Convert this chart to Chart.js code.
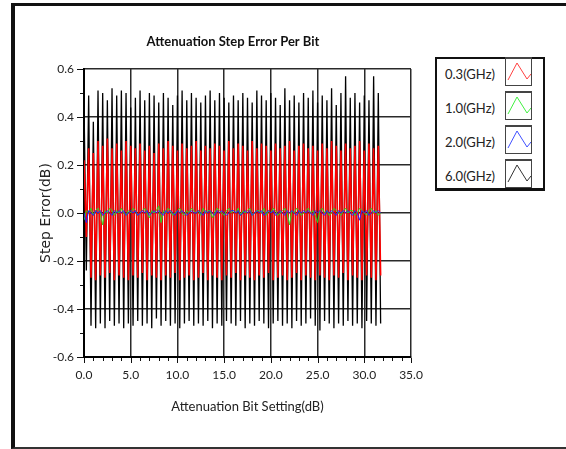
<!DOCTYPE html>
<html>
<head>
<meta charset="utf-8">
<script src="https://cdn.jsdelivr.net/npm/chart.js@4.4.1/dist/chart.umd.min.js"></script>
<style>
  html, body { margin: 0; padding: 0; background: #fff; }
  body { width: 566px; height: 449px; position: relative; overflow: hidden; }
  #marco {
    position: absolute; left: 11px; top: 3px; width: 620px; height: 441px;
    border-left: 4px solid #111; border-top: 3px solid #111; border-bottom: 2px solid #333;
  }
  #grafico { position: absolute; left: 0; top: 0; }
  #leyenda {
    position: absolute; left: 435px; top: 57px; width: 106px; height: 129px;
    border: 2px solid #111; border-bottom-width: 3px; background: #fff;
  }
  .fila { position: absolute; left: 0; width: 96px; height: 27px; }
  .fila span {
    position: absolute; right: 38px; top: 2px;
    font: 13px Lato, "Open Sans", sans-serif; line-height: 30px; color: #222;
  }
  .fila svg {
    position: absolute; left: 68px; top: 0; width: 25px; height: 26px;
    border: 1px solid #444; border-top-width: 2px; background: #fff;
  }
</style>
</head>
<body>
<div id="marco"></div>
<canvas id="grafico" width="566" height="449"></canvas>
<div id="leyenda"></div>
<script>
// Ajustes de atenuación (dB), paso de 0.25
const ajustesBit = [
  0, 0.25, 0.5, 0.75, 1, 1.25, 1.5, 1.75, 2, 2.25, 2.5, 2.75, 3, 3.25, 3.5, 3.75,
  4, 4.25, 4.5, 4.75, 5, 5.25, 5.5, 5.75, 6, 6.25, 6.5, 6.75, 7, 7.25, 7.5, 7.75,
  8, 8.25, 8.5, 8.75, 9, 9.25, 9.5, 9.75, 10, 10.25, 10.5, 10.75, 11, 11.25, 11.5, 11.75,
  12, 12.25, 12.5, 12.75, 13, 13.25, 13.5, 13.75, 14, 14.25, 14.5, 14.75, 15, 15.25, 15.5, 15.75,
  16, 16.25, 16.5, 16.75, 17, 17.25, 17.5, 17.75, 18, 18.25, 18.5, 18.75, 19, 19.25, 19.5, 19.75,
  20, 20.25, 20.5, 20.75, 21, 21.25, 21.5, 21.75, 22, 22.25, 22.5, 22.75, 23, 23.25, 23.5, 23.75,
  24, 24.25, 24.5, 24.75, 25, 25.25, 25.5, 25.75, 26, 26.25, 26.5, 26.75, 27, 27.25, 27.5, 27.75,
  28, 28.25, 28.5, 28.75, 29, 29.25, 29.5, 29.75, 30, 30.25, 30.5, 30.75, 31, 31.25, 31.5, 31.75
];

// Error de paso (dB) por frecuencia
const error03GHz = [
  0.22,-0.10, 0.27,-0.27, 0.25,-0.28, 0.30,-0.26, 0.28,-0.27, 0.31,-0.25, 0.27,-0.28, 0.29,-0.26,
  0.26,-0.27, 0.30,-0.28, 0.28,-0.26, 0.27,-0.27, 0.29,-0.25, 0.26,-0.28, 0.28,-0.26, 0.25,-0.27,
  0.29,-0.28, 0.27,-0.26, 0.30,-0.27, 0.28,-0.25, 0.26,-0.28, 0.29,-0.27, 0.27,-0.26, 0.28,-0.28,
  0.30,-0.27, 0.26,-0.25, 0.28,-0.28, 0.27,-0.26, 0.29,-0.27, 0.28,-0.28, 0.26,-0.26, 0.30,-0.27,
  0.27,-0.25, 0.29,-0.28, 0.28,-0.26, 0.26,-0.27, 0.30,-0.28, 0.27,-0.26, 0.29,-0.27, 0.28,-0.25,
  0.26,-0.28, 0.29,-0.27, 0.27,-0.26, 0.28,-0.28, 0.30,-0.27, 0.26,-0.25, 0.28,-0.28, 0.29,-0.26,
  0.27,-0.27, 0.28,-0.28, 0.26,-0.26, 0.29,-0.27, 0.27,-0.28, 0.30,-0.26, 0.28,-0.27, 0.26,-0.25,
  0.29,-0.28, 0.27,-0.26, 0.28,-0.27, 0.30,-0.28, 0.26,-0.26, 0.29,-0.27, 0.27,-0.28, 0.28,-0.26
];
const error10GHz = [
  -0.03, 0.01, 0.00, 0.02,-0.01, 0.01, 0.02, 0.00,-0.05, 0.01, 0.00, 0.02, 0.01,-0.01, 0.01, 0.00,
   0.02, 0.00,-0.01, 0.01, 0.00, 0.02, 0.01,-0.01, 0.00, 0.01, 0.02, 0.00,-0.02, 0.01, 0.00, 0.01,
   0.03,-0.04, 0.01, 0.00, 0.02, 0.01,-0.01, 0.00, 0.01, 0.02, 0.00,-0.01, 0.01, 0.00, 0.02, 0.01,
   0.00, 0.01,-0.01, 0.02, 0.00, 0.01, 0.01,-0.02, 0.00, 0.02, 0.01, 0.00,-0.01, 0.01, 0.02, 0.00,
   0.01, 0.00, 0.02,-0.01, 0.01, 0.00, 0.01, 0.02,-0.01, 0.00, 0.01, 0.01, 0.00, 0.02,-0.01, 0.01,
   0.00, 0.02, 0.01,-0.01, 0.00, 0.01, 0.02, 0.00,-0.05, 0.01, 0.00, 0.02, 0.01,-0.01, 0.00, 0.01,
   0.02, 0.00, 0.01,-0.01,-0.04, 0.01, 0.02, 0.00, 0.01,-0.01, 0.00, 0.02, 0.01, 0.00,-0.01, 0.01,
   0.02, 0.00, 0.01, 0.01,-0.01, 0.00, 0.02, 0.01, 0.00,-0.01, 0.01, 0.02, 0.00, 0.01,-0.01, 0.00
];
const error20GHz = [
  0.00,-0.04, 0.01, 0.00,-0.01, 0.01, 0.00, 0.01,-0.01, 0.00, 0.01, 0.00,-0.01, 0.01, 0.00, 0.01,
  0.00, 0.01,-0.01, 0.00, 0.01, 0.00, 0.01,-0.01, 0.00, 0.01, 0.00, 0.01,-0.01, 0.00, 0.01, 0.00,
  0.01, 0.00,-0.01, 0.01, 0.00, 0.01, 0.00,-0.01, 0.01, 0.00, 0.01, 0.00,-0.01, 0.00, 0.01, 0.00,
  0.00, 0.01, 0.00,-0.01, 0.01, 0.00, 0.01, 0.00,-0.01, 0.01, 0.00, 0.01, 0.00,-0.01, 0.00, 0.01,
  0.01, 0.00, 0.01,-0.01, 0.00, 0.01, 0.00, 0.01,-0.01, 0.00, 0.01, 0.00, 0.01,-0.01, 0.00, 0.01,
  0.00, 0.01,-0.01, 0.00, 0.01, 0.00,-0.01, 0.01, 0.00, 0.01, 0.00,-0.01, 0.01, 0.00, 0.01, 0.00,
  0.01, 0.00,-0.01, 0.01, 0.00, 0.01, 0.00,-0.01, 0.01, 0.00, 0.01, 0.00,-0.01, 0.01, 0.00, 0.01,
  0.00, 0.01, 0.00,-0.01, 0.01, 0.00,-0.03, 0.01, 0.00, 0.01,-0.01, 0.00, 0.01, 0.00, 0.01, 0.00
];
const error60GHz = [
  0.46,-0.24, 0.49,-0.47, 0.38,-0.48, 0.51,-0.46, 0.50,-0.48, 0.47,-0.45, 0.52,-0.47, 0.49,-0.46,
  0.51,-0.48, 0.50,-0.46, 0.44,-0.47, 0.48,-0.45, 0.51,-0.47, 0.47,-0.46, 0.50,-0.48, 0.49,-0.44,
  0.46,-0.47, 0.50,-0.45, 0.48,-0.47, 0.45,-0.46, 0.49,-0.48, 0.51,-0.46, 0.47,-0.45, 0.50,-0.47,
  0.48,-0.46, 0.46,-0.47, 0.49,-0.45, 0.51,-0.48, 0.47,-0.46, 0.50,-0.47, 0.48,-0.45, 0.46,-0.46,
  0.49,-0.47, 0.47,-0.45, 0.50,-0.48, 0.48,-0.46, 0.46,-0.47, 0.51,-0.45, 0.49,-0.46, 0.47,-0.48,
  0.50,-0.46, 0.48,-0.45, 0.45,-0.47, 0.52,-0.46, 0.47,-0.48, 0.49,-0.45, 0.46,-0.47, 0.50,-0.46,
  0.48,-0.44, 0.51,-0.47, 0.46,-0.49, 0.49,-0.45, 0.47,-0.46, 0.52,-0.48, 0.45,-0.46, 0.50,-0.47,
  0.57,-0.45, 0.48,-0.47, 0.50,-0.46, 0.46,-0.48, 0.49,-0.45, 0.47,-0.46, 0.57,-0.47, 0.50,-0.46
];

const nombresSerie = ["0.3(GHz)", "1.0(GHz)", "2.0(GHz)", "6.0(GHz)"];
const coloresSerie = ["#ff0000", "#22dd22", "#2222ff", "#000000"];
const grosorSerie = [1.6, 1, 1, 1.3];
const coloresIcono = ["#ff4040", "#40f040", "#4050ff", "#333333"];

const fuenteEje = 'Lato, "Open Sans", sans-serif';

function aPuntos(valores) {
  return valores.map((v, i) => ({ x: ajustesBit[i], y: v }));
}

// Marcas menores y mayores de los ejes (fuera del área) + título
const marcasEjes = {
  id: 'marcasEjes',
  afterDraw(chart) {
    const ctx = chart.ctx;
    const area = chart.chartArea;
    const sx = chart.scales.x, sy = chart.scales.y;
    ctx.save();
    ctx.strokeStyle = '#111';
    ctx.lineWidth = 1;
    sx.ticks.forEach(t => {
      const px = Math.round(sx.getPixelForValue(t.value)) + 0.5;
      const largo = t.value % 5 === 0 ? 5 : 3;
      ctx.beginPath();
      ctx.moveTo(px, area.bottom + 1);
      ctx.lineTo(px, area.bottom + 1 + largo);
      ctx.stroke();
    });
    sy.ticks.forEach(t => {
      const py = Math.round(sy.getPixelForValue(t.value)) + 0.5;
      const mayor = Math.abs(Math.round(t.value * 10)) % 2 === 0;
      const largo = mayor ? 6 : 3;
      ctx.beginPath();
      ctx.moveTo(area.left - 1, py);
      ctx.lineTo(area.left - 1 - largo, py);
      ctx.stroke();
    });
    ctx.fillStyle = '#111';
    ctx.font = 'bold 13px ' + fuenteEje;
    ctx.textAlign = 'center';
    ctx.textBaseline = 'middle';
    ctx.fillText('Attenuation Step Error Per Bit', 233, 42);
    ctx.restore();
  }
};

const ctx = document.getElementById('grafico');

new Chart(ctx, {
  type: 'line',
  data: {
    datasets: [
      { label: nombresSerie[2], data: aPuntos(error20GHz), borderColor: coloresSerie[2], borderWidth: grosorSerie[2] },
      { label: nombresSerie[1], data: aPuntos(error10GHz), borderColor: coloresSerie[1], borderWidth: grosorSerie[1] },
      { label: nombresSerie[0], data: aPuntos(error03GHz), borderColor: coloresSerie[0], borderWidth: grosorSerie[0] },
      { label: nombresSerie[3], data: aPuntos(error60GHz), borderColor: coloresSerie[3], borderWidth: grosorSerie[3] }
    ].map(d => Object.assign(d, { pointRadius: 0, tension: 0, fill: false }))
  },
  options: {
    responsive: false,
    animation: false,
    layout: { padding: { top: 69, right: 155, left: 0, bottom: 0 } },
    plugins: {
      legend: { display: false },
      tooltip: { enabled: false }
    },
    scales: {
      x: {
        type: 'linear',
        min: 0,
        max: 35,
        afterFit: (scale) => { scale.height = 92; },
        ticks: {
          stepSize: 1,
          autoSkip: false,
          maxRotation: 0,
          padding: 11,
          color: '#222',
          font: { family: fuenteEje, size: 12 },
          callback: (v) => (v % 5 === 0 ? Number(v).toFixed(1) : '')
        },
        grid: {
          drawTicks: false,
          lineWidth: 1.5,
          color: (c) => (c.tick && c.tick.value % 5 === 0 ? '#2a2a2a' : 'rgba(0,0,0,0)')
        },
        border: { color: '#000', width: 2 },
        title: {
          display: true,
          text: 'Attenuation Bit Setting(dB)',
          color: '#222',
          font: { family: fuenteEje, size: 13 },
          padding: { top: 0, bottom: 34 }
        }
      },
      y: {
        min: -0.6,
        max: 0.6,
        afterFit: (scale) => { scale.width = 84; },
        ticks: {
          stepSize: 0.1,
          autoSkip: false,
          padding: 10,
          color: '#222',
          font: { family: fuenteEje, size: 12 },
          callback: (v) => {
            const r = Math.round(v * 10);
            return Math.abs(r) % 2 === 0 ? (r / 10).toFixed(1) : '';
          }
        },
        grid: {
          drawTicks: false,
          lineWidth: 1.5,
          color: (c) => (c.tick && Math.abs(Math.round(c.tick.value * 10)) % 2 === 0 ? '#2a2a2a' : 'rgba(0,0,0,0)')
        },
        border: { color: '#000', width: 2 },
        title: {
          display: true,
          text: 'Step Error(dB)',
          color: '#222',
          font: { family: '"DejaVu Sans", Verdana, sans-serif', size: 14 },
          padding: { top: 38, bottom: 0 }
        }
      }
    }
  },
  plugins: [marcasEjes]
});

// Leyenda HTML
const leyenda = document.getElementById('leyenda');
nombresSerie.forEach((nombre, i) => {
  const fila = document.createElement('div');
  fila.className = 'fila';
  fila.style.top = (i * 34 - 2) + 'px';
  fila.innerHTML = `<span>${nombre}</span>` +
    `<svg viewBox="0 0 25 26"><polyline points="2,21 11,4 21,20 25,15" fill="none" stroke="${coloresIcono[i]}" stroke-width="1"/></svg>`;
  leyenda.appendChild(fila);
});
</script>
</body>
</html>
